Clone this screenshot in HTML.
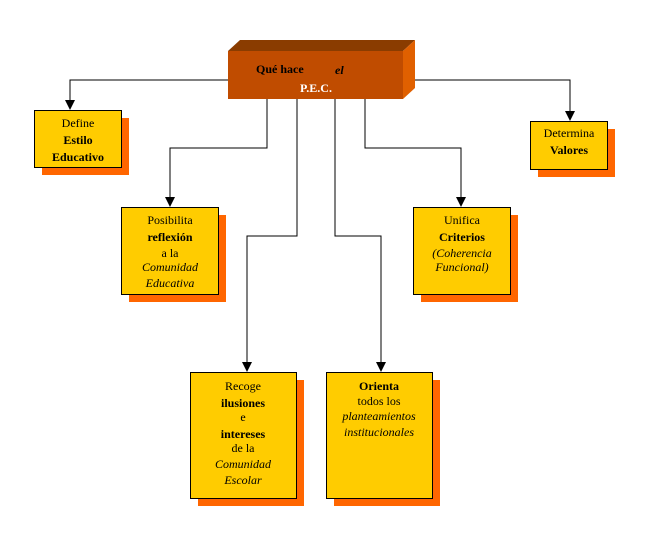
<!DOCTYPE html>
<html><head><style>body{margin:0;background:#fff}svg{display:block}text{font-family:"Liberation Serif",serif;font-size:12px;fill:#000}</style></head><body>
<svg width="650" height="536" xmlns="http://www.w3.org/2000/svg">
<defs><marker id="a" markerWidth="10" markerHeight="10" refX="5" refY="9" orient="auto" markerUnits="userSpaceOnUse"><path d="M0,0 L10,0 L5,10 z" fill="#000" transform="rotate(-90 5 5)"/></marker></defs>
<g stroke="#000" stroke-width="1" fill="none">
<path d="M228,80 H70 V101"/><path d="M403,80 H570 V112"/>
<path d="M267,99 V148 H170 V198"/>
<path d="M297,99 V236 H247 V363"/>
<path d="M335,99 V236 H381 V363"/>
<path d="M365,99 V148 H461 V198"/>
</g>
<g fill="#000">
<path d="M65,100 h10 l-5,10z"/><path d="M565,111 h10 l-5,10z"/>
<path d="M165,197 h10 l-5,10z"/><path d="M456,197 h10 l-5,10z"/>
<path d="M242,362 h10 l-5,10z"/><path d="M376,362 h10 l-5,10z"/>
</g>
<polygon points="228,51 240,40 415,40 403,51" fill="#8a3c00"/>
<polygon points="403,51 415,40 415,88 403,99" fill="#e06000"/>
<rect x="228" y="51" width="175" height="48" fill="#c04c00"/>
<text x="256" y="73" font-weight="bold" font-size="13">Qué hace</text>
<text x="335" y="74" font-weight="bold" font-style="italic" font-size="17">el</text>
<text x="316" y="92" font-weight="bold" font-size="13" fill="#fff" style="fill:#fff" text-anchor="middle">P.E.C.</text>
<g fill="#ff6600"><rect x="42" y="118" width="87" height="57"/><rect x="538" y="129" width="77" height="48"/><rect x="129" y="215" width="97" height="87"/><rect x="421" y="215" width="97" height="87"/><rect x="198" y="380" width="106" height="126"/><rect x="334" y="380" width="106" height="126"/></g>
<g fill="#ffcc00" stroke="#000"><rect x="34.5" y="110.5" width="87" height="57"/><rect x="530.5" y="121.5" width="77" height="48"/><rect x="121.5" y="207.5" width="97" height="87"/><rect x="413.5" y="207.5" width="97" height="87"/><rect x="190.5" y="372.5" width="106" height="126"/><rect x="326.5" y="372.5" width="106" height="126"/></g>
<g text-anchor="middle">
<text x="78" y="127">Define</text><text x="78" y="144" font-weight="bold">Estilo</text><text x="78" y="161" font-weight="bold">Educativo</text>
<text x="569" y="137">Determina</text><text x="569" y="154" font-weight="bold">Valores</text>
<text x="170" y="224">Posibilita</text><text x="170" y="241" font-weight="bold">reflexión</text><text x="170" y="257">a la</text><text x="170" y="271" font-style="italic">Comunidad</text><text x="170" y="287" font-style="italic">Educativa</text>
<text x="462" y="224">Unifica</text><text x="462" y="241" font-weight="bold">Criterios</text><text x="462" y="257" font-style="italic">(Coherencia</text><text x="462" y="271" font-style="italic">Funcional)</text>
<text x="243" y="390">Recoge</text><text x="243" y="407" font-weight="bold">ilusiones</text><text x="243" y="421">e</text><text x="243" y="438" font-weight="bold">intereses</text><text x="243" y="452">de la</text><text x="243" y="468" font-style="italic">Comunidad</text><text x="243" y="484" font-style="italic">Escolar</text>
<text x="379" y="390" font-weight="bold">Orienta</text><text x="379" y="405">todos los</text><text x="379" y="420" font-style="italic">planteamientos</text><text x="379" y="436" font-style="italic">institucionales</text>
</g>
</svg>
</body></html>
